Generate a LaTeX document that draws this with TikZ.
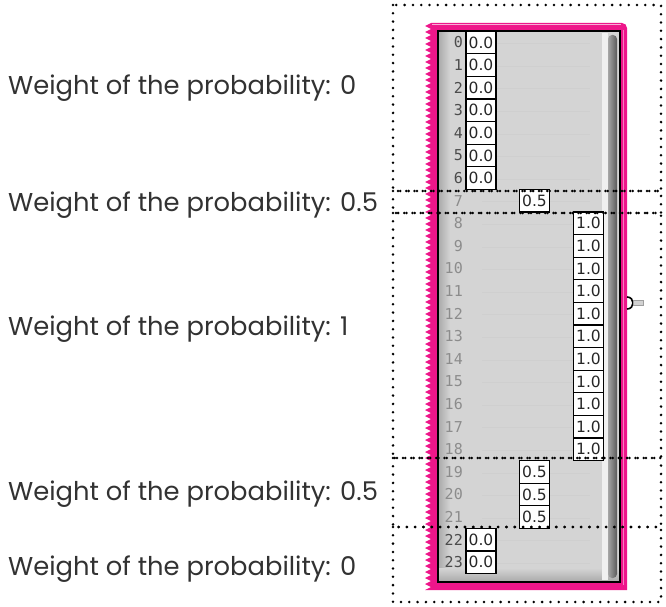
\documentclass[tikz,border=0pt]{standalone}
\usepackage{fontspec}
\setmainfont{Poppins}
\newfontfamily\boxfont{DejaVu Sans}
\newfontfamily\idxfont{DejaVu Sans Mono}
\usetikzlibrary{positioning}
\definecolor{framepink}{RGB}{238,22,138}
\definecolor{panelgray}{RGB}{212,212,212}
\definecolor{labeltext}{RGB}{50,50,50}
\definecolor{scrolldark}{RGB}{112,112,112}

\begin{document}
\begin{tikzpicture}[x=1pt, y=-1pt,
    weight/.style={anchor=base west, inner sep=0pt, text=labeltext,
        font=\fontsize{25.8}{30}\selectfont},
    valbox/.style={draw=black, line width=1.2pt, fill=white, text=black!85,
        minimum width=30pt, minimum height=22.6pt, inner sep=0pt,
        font=\boxfont\fontsize{15.5}{16}\selectfont},
    idx/.style={anchor=east, inner sep=0pt, font=\idxfont\fontsize{15}{16}\selectfont},
    groupline/.style={line width=2.8pt, line cap=round, dash pattern=on 0pt off 8.3pt}
]
\useasboundingbox (0,0) rectangle (666,607);

% weight labels
\node[weight] (w0) at (8,95) {Weight of the probability: 0};
\node[weight] (w1) at (8,211) {Weight of the probability: 0.5};
\node[weight] (w2) at (8,335) {Weight of the probability: 1};
\node[weight] (w3) at (8,500) {Weight of the probability: 0.5};
\node[weight] (w4) at (8,575) {Weight of the probability: 0};

% pink frame with zigzag left edge
\fill[framepink] (431,23) -- (622,23) to[out=0,in=90] (627,28) -- (627,590) -- (425,590)
    foreach \k in {0,...,94} { -- (425,{590-6*\k}) -- (431,{587-6*\k}) } -- cycle;
\draw[framepink!35!white, line width=1.5pt] (432,24.5) -- (621,24.5);
\draw[framepink!55!white, line width=1.2pt] (623.5,30) -- (623.5,585);

% panel
\fill[panelgray] (438,31) rectangle (620,582);
\shade[left color=gray!65, right color=panelgray] (439,32) rectangle (450,581);
\shade[top color=panelgray, bottom color=gray!65] (439,568) rectangle (619,581);
\fill[gray!12] (602,33) rectangle (608,580);
\shade[left color=gray!70, right color=scrolldark!80!black, rounded corners=4pt] (608,35) rectangle (617,578);
\draw[line width=1.5pt] (438,31) rectangle (620,582);

% row lines
\foreach \i in {0,...,23}
    \draw[gray!38, line width=0.8pt] (482,{43.5+22.6*\i}) -- (590,{43.5+22.6*\i});

% indices
\foreach \i in {0,...,6,22,23}
    \node[idx, text=black!70] (n\i) at (463,{42.5+22.6*\i}) {\i};
\foreach \i in {7,...,21}
    \node[idx, text=black!45] (n\i) at (463,{42.5+22.6*\i}) {\i};

% values
\foreach \i in {0,...,6,22,23}
    \node[valbox] (a\i) at (481,{42.5+22.6*\i}) {0.0};
\foreach \i in {7,19,20,21}
    \node[valbox] (b\i) at (534.5,{42.5+22.6*\i}) {0.5};
\foreach \i in {8,...,18}
    \node[valbox] (c\i) at (588.5,{42.5+22.6*\i}) {1.0};

% outlet
\coordinate (outlet) at (627,303);
\draw[line width=1.6pt] ([yshift=-6pt]outlet) .. controls +(8,0) and +(8,0) .. ([yshift=6pt]outlet);
\draw[gray!75, fill=gray!35, line width=0.8pt] ([xshift=6pt,yshift=-2.5pt]outlet) rectangle ([xshift=16pt,yshift=2.5pt]outlet);

% dotted groups
\draw[groupline] (393,5) rectangle (661,191);
\draw[groupline] (393,191) rectangle (661,213);
\draw[groupline] (393,213) rectangle (661,458);
\draw[groupline] (393,458) rectangle (661,527);
\draw[groupline] (393,527) rectangle (661,602);

\end{tikzpicture}
\end{document}
